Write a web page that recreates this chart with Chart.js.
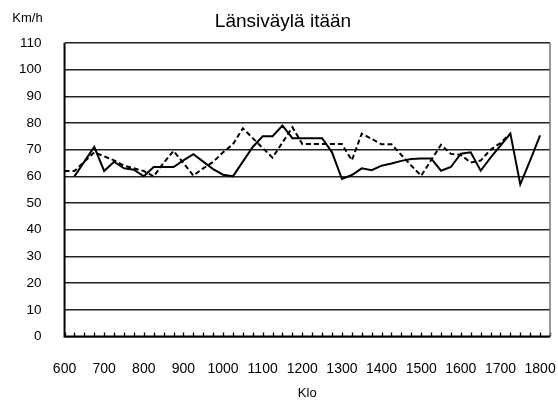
<!DOCTYPE html>
<html>
<head>
<meta charset="utf-8">
<script src="https://cdn.jsdelivr.net/npm/chart.js@4.4.1/dist/chart.umd.min.js"></script>
<style>
    html, body { margin: 0; padding: 0; background: #fff; }
    #wrap { width: 558px; height: 401px; }
</style>
</head>
<body>
<div id="wrap"><canvas id="chart"></canvas></div>
<script>
// Time of day (every 15 minutes), shown as on the clock: 600 = 6:00
const times = [
    '600', '615', '630', '645', '700', '715', '730', '745', '800', '815',
    '830', '845', '900', '915', '930', '945', '1000', '1015', '1030', '1045',
    '1100', '1115', '1130', '1145', '1200', '1215', '1230', '1245', '1300', '1315',
    '1330', '1345', '1400', '1415', '1430', '1445', '1500', '1515', '1530', '1545',
    '1600', '1615', '1630', '1645', '1700', '1715', '1730', '1745', '1800', '1815'
];

// Speed, solid line (km/h)
const speedSolid = [
    null, 60, 65.5, 71, 62, 65.5, 63, 62.5, 60, 63.5,
    63.5, 63.5, 66, 68.3, 65.5, 62.7, 60.6, 60, 65.5, 71,
    75, 75, 79, 74.3, 74.3, 74.3, 74.3, 69, 59, 60.5,
    63, 62.3, 64, 64.8, 65.8, 66.5, 66.7, 66.7, 62.1, 63.5,
    68.5, 69, 62.1, 67, 71.5, 76, 57, 66, 75.3, null
];

// Speed, dashed line (km/h)
const speedDashed = [
    62, 62, 65.5, 69, 67.5, 66, 64, 63, 62, 60,
    65, 69.5, 65, 60.3, 63, 65.4, 69, 72, 78, 74.3,
    70.6, 67, 72.7, 78.4, 72.1, 72.1, 72.1, 72.1, 72.1, 66,
    76, 74, 72, 72, 68, 64, 60.2, 66, 71.8, 68.4,
    68, 65.2, 65.9, 70, 72.5, 76, null, null, null, null
];

const yTicks = { min: 0, max: 110, step: 10 };

// Frame of the plot, small inner ticks on the time axis and the unit label
const framePlugin = {
    id: 'frame',
    afterDraw(chart) {
        const ctx = chart.ctx;
        const area = chart.chartArea;
        const xScale = chart.scales.x;
        const yScale = chart.scales.y;
        ctx.save();

        // inner ticks
        ctx.strokeStyle = '#000';
        ctx.lineWidth = 1.3;
        xScale.ticks.forEach((t, i) => {
            const x = Math.round(xScale.getPixelForTick(i)) + 0.5;
            ctx.beginPath();
            ctx.moveTo(x, area.bottom);
            ctx.lineTo(x, area.bottom - 4);
            ctx.stroke();
        });

        // right border
        ctx.strokeStyle = '#777';
        ctx.lineWidth = 1.5;
        ctx.beginPath();
        ctx.moveTo(area.right, area.top);
        ctx.lineTo(area.right, area.bottom);
        ctx.stroke();

        // left and bottom axis lines
        ctx.strokeStyle = '#000';
        ctx.lineWidth = 2;
        ctx.beginPath();
        ctx.moveTo(area.left, area.top);
        ctx.lineTo(area.left, area.bottom);
        ctx.lineTo(area.right, area.bottom);
        ctx.stroke();

        // unit label
        ctx.fillStyle = '#000';
        ctx.font = '13px "Liberation Sans", Arial, sans-serif';
        ctx.textAlign = 'center';
        ctx.textBaseline = 'middle';
        ctx.fillText('Km/h', yScale.right - 37, 18);
        ctx.restore();
    }
};

window.addEventListener('DOMContentLoaded', () => {
    Chart.defaults.font.family = '"Liberation Sans", Arial, sans-serif';
    Chart.defaults.color = '#000';

    new Chart(document.getElementById('chart'), {
        type: 'line',
        data: {
            labels: times,
            datasets: [
                {
                    label: 'solid',
                    data: speedSolid,
                    borderColor: '#000',
                    borderWidth: 2,
                    pointRadius: 0,
                    tension: 0,
                    fill: false
                },
                {
                    label: 'dashed',
                    data: speedDashed,
                    borderColor: '#000',
                    borderWidth: 2,
                    borderDash: [5, 3],
                    pointRadius: 0,
                    tension: 0,
                    fill: false
                }
            ]
        },
        options: {
            responsive: true,
            maintainAspectRatio: false,
            animation: false,
            layout: { padding: { left: 16, right: 8, top: 0, bottom: 0 } },
            plugins: {
                legend: { display: false },
                tooltip: { enabled: false },
                title: {
                    display: true,
                    text: 'Länsiväylä itään',
                    color: '#000',
                    font: { size: 19, weight: 'normal' },
                    padding: { top: 10, bottom: 10 }
                }
            },
            scales: {
                x: {
                    type: 'category',
                    offset: false,
                    grid: { display: false, drawTicks: true, tickLength: 20 },
                    border: { display: false },
                    ticks: {
                        autoSkip: false,
                        maxRotation: 0,
                        minRotation: 0,
                        padding: 4,
                        font: { size: 14 },
                        callback: function (value, index) {
                            return index % 4 === 0 && index <= 48 ? this.getLabelForValue(value) : '';
                        }
                    },
                    title: {
                        display: true,
                        text: 'Klo',
                        font: { size: 13 },
                        padding: { top: 4, bottom: 0 }
                    }
                },
                y: {
                    min: yTicks.min,
                    max: yTicks.max,
                    grid: {
                        color: '#222',
                        lineWidth: 1.4,
                        drawTicks: true,
                        tickLength: 20,
                        tickColor: 'rgba(0,0,0,0)'
                    },
                    border: { display: false },
                    ticks: {
                        stepSize: yTicks.step,
                        padding: 3,
                        font: { size: 13.5 }
                    }
                }
            }
        },
        plugins: [framePlugin]
    });
});
</script>
</body>
</html>
